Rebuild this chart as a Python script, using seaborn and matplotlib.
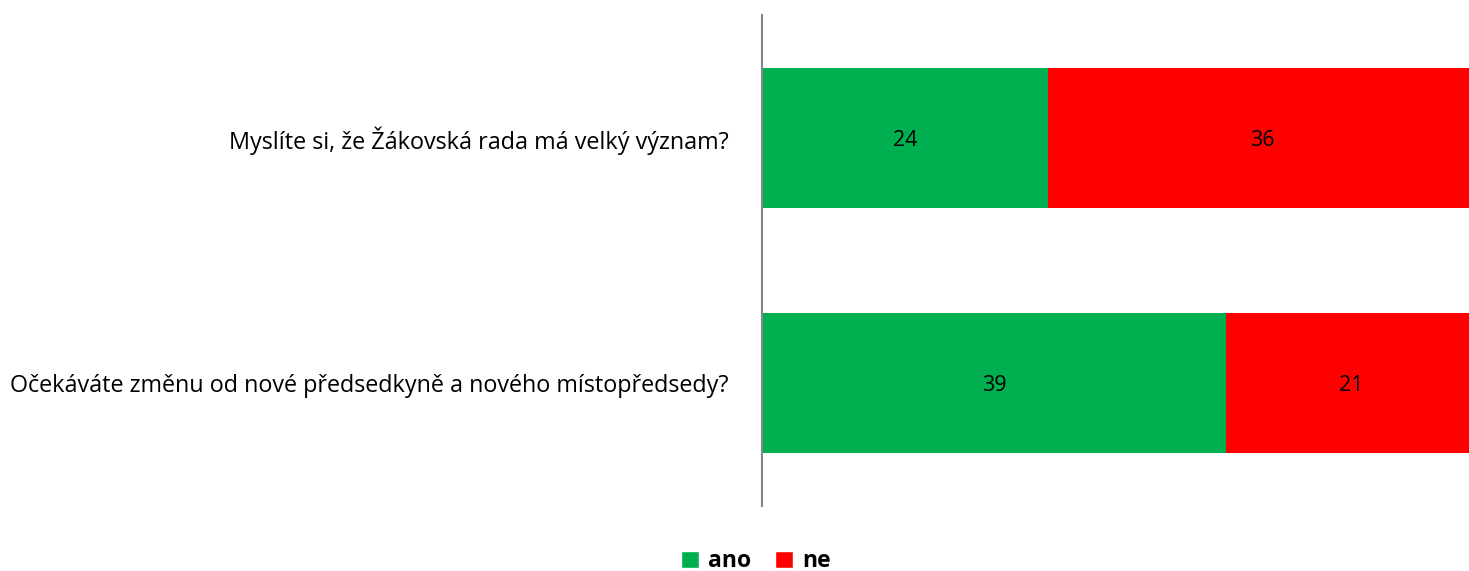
import matplotlib
matplotlib.use("Agg")
import matplotlib.pyplot as plt
from matplotlib.patches import Patch
import seaborn as sns
import pandas as pd

categories = ["Myslíte si, že Žákovská rada má velký význam?",
              "Očekáváte změnu od nové předsedkyně a nového místopředsedy?"]
ano = [24, 39]
ne = [36, 21]
series_names = ["ano", "ne"]

GREEN = "#00B050"
RED = "#FF0000"

sns.set_theme(style="white")
plt.rcParams["font.family"] = ["Open Sans", "DejaVu Sans"]
plt.rcParams["text.color"] = "black"

df = pd.DataFrame({"cat": categories, "ano": ano, "ne": ne})
df["total"] = df["ano"] + df["ne"]

fig = plt.figure(figsize=(14.69, 5.71), dpi=100)
ax = fig.add_axes([0.5187, 0.1138, 0.4813, 0.8599])

sns.barplot(data=df, x="total", y="cat", orient="h", color=RED, width=0.57,
            saturation=1, ax=ax, edgecolor="none")
sns.barplot(data=df, x="ano", y="cat", orient="h", color=GREEN, width=0.57,
            saturation=1, ax=ax, edgecolor="none")

# labels
c_tot, c_ano = ax.containers[0], ax.containers[1]
for bar, v in zip(c_ano, ano):
    y = bar.get_y() + bar.get_height() / 2
    ax.text(v / 2, y, str(v), ha="center", va="center_baseline", fontsize=15.5, color="black")
for bar, v, a in zip(c_tot, ne, ano):
    y = bar.get_y() + bar.get_height() / 2
    ax.text(a + v / 2, y, str(v), ha="center", va="center_baseline", fontsize=15.5, color="black")

ax.set_xlim(0, 59.4)
ax.set_ylim(1.5, -0.5)
ax.set_xlabel("")
ax.set_ylabel("")
ax.set_xticks([])
for s in ["top", "right", "bottom"]:
    ax.spines[s].set_visible(False)
ax.spines["left"].set_color("#868686")
ax.spines["left"].set_linewidth(1.5)
ax.tick_params(axis="y", length=0, pad=24, labelsize=16.8, labelcolor="black")

handles = [Patch(facecolor=GREEN, label="ano"), Patch(facecolor=RED, label="ne")]
leg = fig.legend(handles=handles, loc="center", bbox_to_anchor=(0.5145, 0.017), ncol=2,
                 frameon=False, handlelength=0.8, handleheight=0.8, handletextpad=0.4,
                 columnspacing=1.0, prop={"weight": "bold", "size": 16.5})
for t in leg.get_texts():
    t.set_color("black")

fig.savefig("out.png", dpi=100)
